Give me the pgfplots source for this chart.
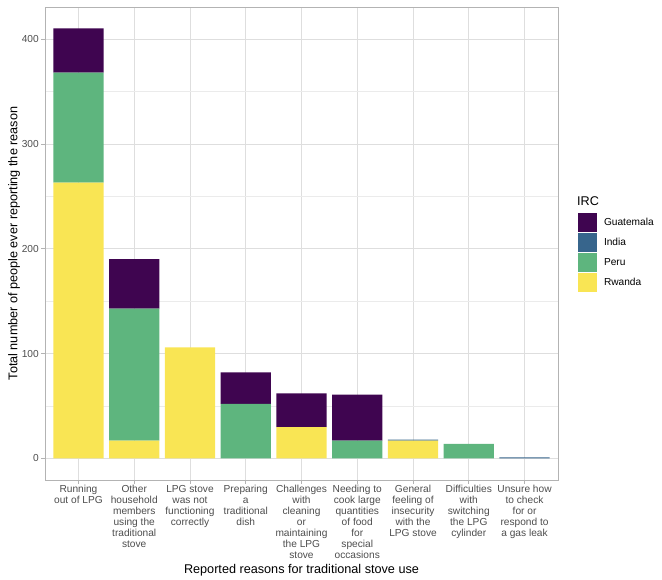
\documentclass[border=0pt]{standalone}
\usepackage{pgfplots}
\pgfplotsset{compat=1.18}
\usepackage{fontspec}
\setmainfont{Liberation Sans}
\definecolor{guatemala}{RGB}{63,5,80}
\definecolor{india}{RGB}{55,101,140}
\definecolor{peru}{RGB}{94,181,126}
\definecolor{rwanda}{RGB}{249,229,84}
\definecolor{grey87}{RGB}{222,222,222}
\definecolor{grey70}{RGB}{179,179,179}
\definecolor{grey30}{RGB}{77,77,77}
\newcommand{\axtext}{\fontsize{10.2}{11}\selectfont}
\newcommand{\tttext}{\fontsize{12.7}{14}\selectfont}
\begin{document}
\begin{tikzpicture}
\path[use as bounding box] (0,0) rectangle (662bp,580bp);
\begin{axis}[
    name=main,
    at={(45bp,100bp)}, anchor=south west,
    scale only axis, width=513bp, height=473bp,
    ybar stacked, bar width=0.9,
    xmin=0.4, xmax=9.6, ymin=-20.5, ymax=430.5,
    xtick={1,...,9},
    xticklabels={
        {Running\\out of LPG},
        {Other\\household\\members\\using the\\traditional\\stove},
        {LPG stove\\was not\\functioning\\correctly},
        {Preparing\\a\\traditional\\dish},
        {Challenges\\with\\cleaning\\or\\maintaining\\the LPG\\stove},
        {Needing to\\cook large\\quantities\\of food\\for\\special\\occasions},
        {General\\feeling of\\insecurity\\with the\\LPG stove},
        {Difficulties\\with\\switching\\the LPG\\cylinder},
        {Unsure how\\to check\\for or\\respond to\\a gas leak}},
    ytick={0,100,...,400},
    minor ytick={50,150,250,350},
    xmajorgrids, ymajorgrids, yminorgrids,
    major grid style={color=grey87, line width=0.6bp},
    minor grid style={color=grey87!60, line width=0.35bp},
    axis line style={color=grey70, line width=0.6bp},
    xtick pos=bottom, ytick pos=left,
    tick align=outside, major tick length=3.5bp, minor tick length=0pt,
    tick style={color=grey70, line width=0.6bp},
    /pgf/number format/assume math mode=true,
    ticklabel style={font=\axtext, text=grey30},
    xticklabel style={align=center, inner sep=1.5bp},
    yticklabel style={inner sep=2.5bp},
    xlabel={Reported reasons for traditional stove use},
    ylabel={Total number of people ever reporting the reason},
    xlabel style={font=\tttext, at={(axis description cs:0.5,-0.19)}, anchor=center},
    ylabel style={font=\tttext, at={(axis description cs:-0.0604,0.5)}, rotate=0, anchor=center},
    reverse legend,
    legend image code/.code={\fill[#1] (0bp,-9.5bp) rectangle (19bp,9.5bp);},
    legend style={at={(axis description cs:1.039,0.5645)}, anchor=north west,
        draw=none, fill=none, inner sep=0pt, outer sep=0pt,
        row sep=1bp, column sep=7bp,
        nodes={inner sep=0pt, font=\axtext, text=black}},
    legend cell align=left,
]
\addplot[fill=rwanda, draw=none] coordinates {(1,263) (2,17) (3,106) (4,0) (5,30) (6,0) (7,17) (8,0) (9,0)};
\addlegendentry{Rwanda}
\addplot[fill=peru, draw=none] coordinates {(1,105) (2,126) (3,0) (4,52) (5,0) (6,17) (7,0) (8,14) (9,0)};
\addlegendentry{Peru}
\addplot[fill=india, draw=none] coordinates {(1,0) (2,0) (3,0) (4,0) (5,0) (6,0) (7,1) (8,0) (9,1)};
\addlegendentry{India}
\addplot[fill=guatemala, draw=none] coordinates {(1,42) (2,47) (3,0) (4,30) (5,32) (6,44) (7,0) (8,0) (9,0)};
\addlegendentry{Guatemala}
\end{axis}
\node[anchor=west, font=\tttext, inner sep=0pt] at (577bp,379bp) {IRC};
\end{tikzpicture}
\end{document}
